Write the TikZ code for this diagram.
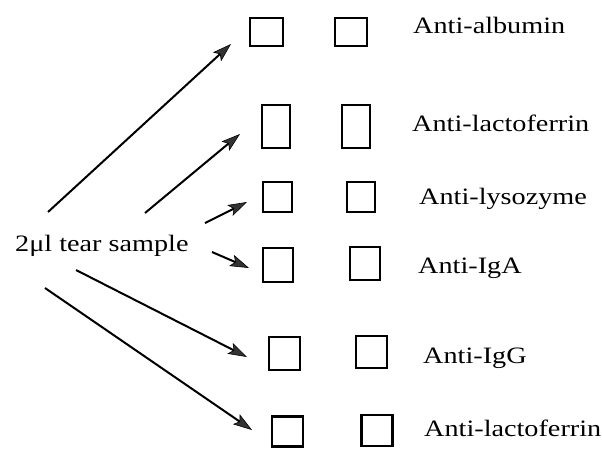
\documentclass[tikz,border=0pt]{standalone}
\usepackage{fontspec}
\setmainfont{Liberation Serif}
\usetikzlibrary{arrows.meta}
\tikzset{
  well/.style={draw, line width=2.2pt, inner sep=0pt, minimum width=#1},
  well/.default=30pt,
  lbl/.style={anchor=base west, inner sep=0pt, xscale=1.2,
    font=\fontsize{23.5}{27}\selectfont},
  feed/.style={line width=2pt, draw=black,
    -{Stealth[length=19pt,width=12pt,inset=4pt,fill=black!80,line width=0.6pt]}}
}
\begin{document}
\begin{tikzpicture}[x=1pt,y=-1pt]
\useasboundingbox (0,0) rectangle (602,448);

% antibody wells, two per row
\node[well=33pt, minimum height=28pt] (a1) at (266.5,32) {};
\node[well=32pt, minimum height=28pt] (a2) at (351,32) {};
\node[well=28pt, minimum height=43pt] (b1) at (276,126.5) {};
\node[well=28pt, minimum height=43pt] (b2) at (356,126.5) {};
\node[well=29pt, minimum height=30pt] (c1) at (277.5,197) {};
\node[well=28pt, minimum height=30pt] (c2) at (361,197) {};
\node[well=30pt, minimum height=34pt] (d1) at (278,265) {};
\node[well=30pt, minimum height=33pt] (d2) at (365,263.5) {};
\node[well=31pt, minimum height=33pt] (e1) at (284.5,353.5) {};
\node[well=31pt, minimum height=32pt] (e2) at (371.5,352) {};
\node[well=31pt, minimum height=30pt] (f1) at (287.5,431.5) {};
\node[well=31pt, minimum height=31pt] (f2) at (377,430.5) {};

% antibody labels
\node[lbl] (la) at (413,33) {Anti-albumin};
\node[lbl] (lb) at (412,131) {Anti-lactoferrin};
\node[lbl] (lc) at (419,204) {Anti-lysozyme};
\node[lbl] (ld) at (418,273) {Anti-IgA};
\node[lbl] (le) at (423,363) {Anti-IgG};
\node[lbl] (lf) at (424,436) {Anti-lactoferrin};

% sample
\node[lbl] (src) at (15,251) {2μl tear sample};

% arrow ends
\coordinate (s1) at (48,212);   \coordinate (t1) at (231,44);
\coordinate (s2) at (145,213);  \coordinate (t2) at (240,134);
\coordinate (s3) at (205,223);  \coordinate (t3) at (247,202);
\coordinate (s4) at (212,252);  \coordinate (t4) at (249,268);
\coordinate (s5) at (76,270);   \coordinate (t5) at (247,357);
\coordinate (s6) at (45,288);   \coordinate (t6) at (252,430);

\foreach \i in {1,...,6}
  \draw[feed] (s\i) -- (t\i);
\end{tikzpicture}
\end{document}
